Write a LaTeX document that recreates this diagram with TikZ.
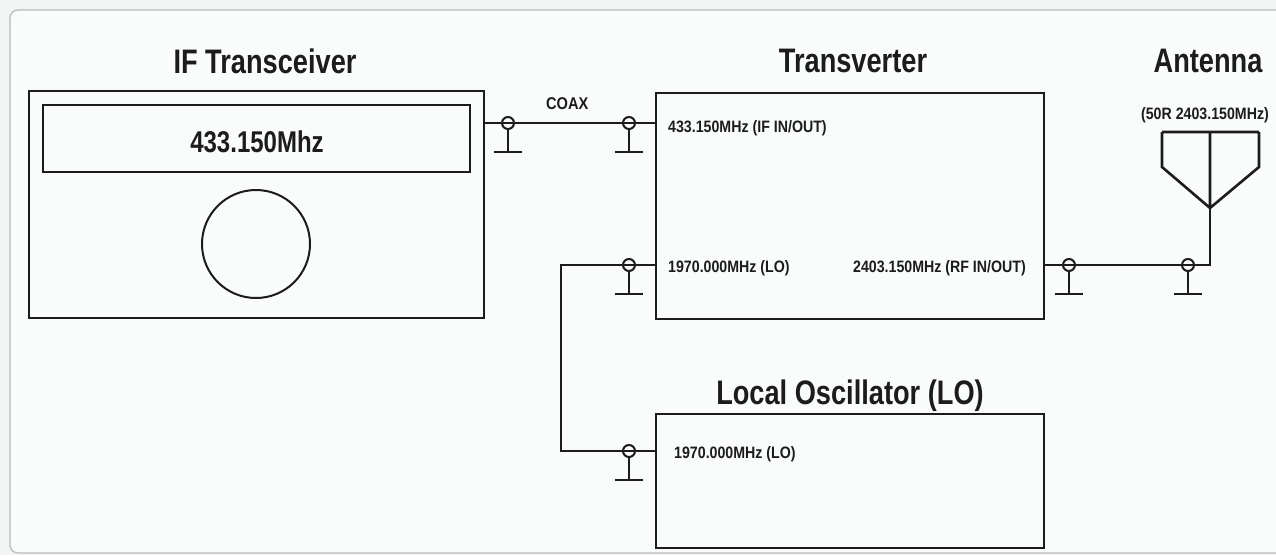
\documentclass[tikz,border=0pt]{standalone}
\usepackage{fontspec}
\newfontfamily\cad[FakeStretch=0.8]{Liberation Sans Bold}
\newfontfamily\cads[FakeStretch=0.86]{Liberation Sans Bold}
\definecolor{lineC}{HTML}{1C1C1C}
\definecolor{bgC}{HTML}{F3F5F5}
\definecolor{frameC}{HTML}{B8BABA}
\begin{document}
\begin{tikzpicture}[x=1pt,y=-1pt,
  wire/.style={draw=lineC, line width=2pt},
  box/.style={draw=lineC, line width=2pt, inner sep=0pt, anchor=north west},
  title/.style={font=\cad\fontsize{34}{34}\selectfont, text=lineC, inner sep=0pt},
  small/.style={font=\cads\fontsize{16.5}{16.5}\selectfont, text=lineC, inner sep=0pt},
  coaxc/.pic={\draw[wire] (0,0) circle (6pt); \draw[wire] (0,6) -- (0,29) (-14,29) -- (14,29);}
]
\useasboundingbox (0,0) rectangle (1276,555);
\fill[bgC] (0,0) rectangle (1276,555);
\draw[frameC, line width=1.2pt, fill=white!60!bgC, rounded corners=8pt] (10,10) rectangle (1300,553);

% IF Transceiver
\node[title] (ift-t) at (265,61) {IF Transceiver};
\node[box, minimum width=455pt, minimum height=227pt] (ift) at (28,90) {};
\node[box, minimum width=427pt, minimum height=67pt] (disp) at (42,104) {};
\node[title, font=\cad\fontsize{30}{30}\selectfont] (freq) at (257,142) {433.150Mhz};
\node[draw=lineC, line width=2pt, circle, minimum size=108pt, inner sep=0pt] (knob) at (256,244) {};

% Transverter
\node[title] (tv-t) at (853,61) {Transverter};
\node[box, minimum width=388pt, minimum height=226pt] (tv) at (655,92) {};
\node[small, anchor=west] (tv-if) at (668,128) {433.150MHz (IF IN/OUT)};
\node[small, anchor=west] (tv-lo) at (668,268) {1970.000MHz (LO)};
\node[small, anchor=east] (tv-rf) at (1026,268) {2403.150MHz (RF IN/OUT)};

% Local oscillator
\node[title] (lo-t) at (850,396) {Local Oscillator (LO)};
\node[box, minimum width=388pt, minimum height=134pt] (lo) at (655,413) {};
\node[small, anchor=west] (lo-f) at (674,454) {1970.000MHz (LO)};

% Antenna
\node[title] (ant-t) at (1208,61) {Antenna};
\node[small] (ant-s) at (1205,115) {(50R 2403.150MHz)};
\coordinate (apex) at (1210,208);
\draw[wire, line width=2.6pt, line join=miter] (1162,132) -- (1259,132)
  (1162,132) -- (1162,167) -- (apex) -- (1259,167) -- (1259,132)
  (1210,132) -- (apex);

% ports
\coordinate (ifout) at (483,123);
\coordinate (tvin) at (655,123);
\coordinate (tvlo) at (655,265);
\coordinate (tvrf) at (1043,265);
\coordinate (lojog1) at (561,265);
\coordinate (lojog2) at (561,451);
\coordinate (loout) at (655,451);
\coordinate (antfeed) at (1210,265);

% COAX
\draw[wire] (ifout) -- node[pos=0.49, above=12pt, small, font=\cads\fontsize{17}{17}\selectfont] (coax) {COAX} (tvin);
\pic at (508,123) {coaxc};
\pic at (629,123) {coaxc};

% LO link
\draw[wire] (tvlo) -- (lojog1) -- (lojog2) -- (loout);
\pic at (629,265) {coaxc};
\pic at (629,451) {coaxc};

% RF link
\draw[wire] (tvrf) -- (antfeed) -- (apex);
\pic at (1069,265) {coaxc};
\pic at (1188,265) {coaxc};
\end{tikzpicture}
\end{document}
